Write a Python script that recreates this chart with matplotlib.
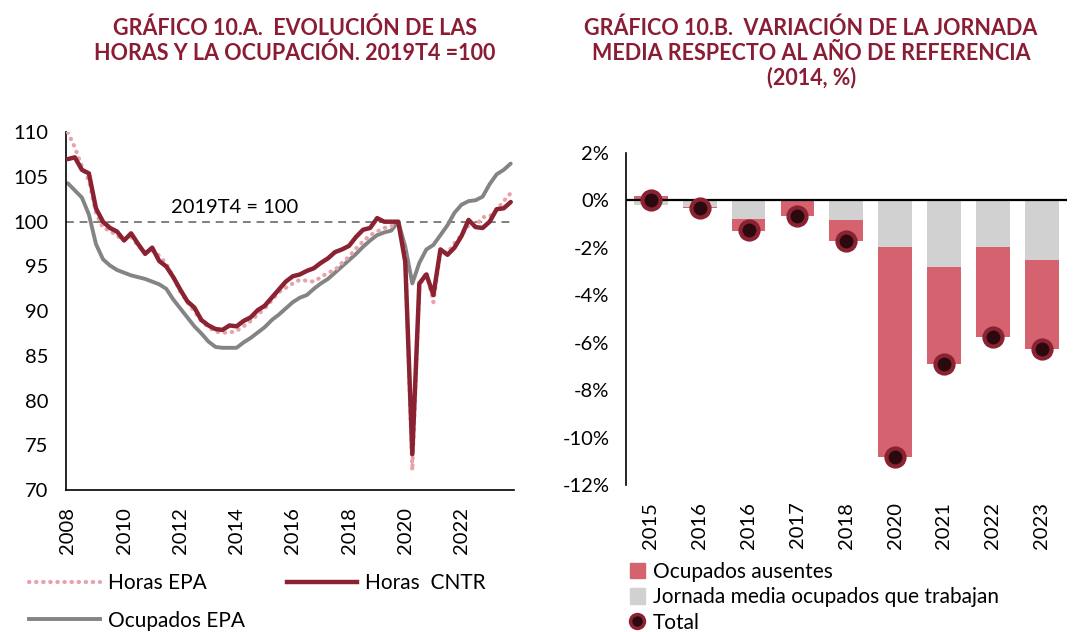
import matplotlib.pyplot as plt
import matplotlib.lines as mlines
import matplotlib.patches as mpatches
import numpy as np

plt.rcParams['font.family'] = ['Lato', 'DejaVu Sans']

# ---- datos grafico 10.A (trimestral 2008T1 - 2023T4) ----
anios_ticks = ['2008', '2010', '2012', '2014', '2016', '2018', '2020', '2022']

horas_epa = [110.0, 108.3, 106.2, 104.6, 101.0, 99.3, 99.0, 98.4,
             98.0, 98.3, 97.3, 96.6, 96.8, 96.2, 95.3, 93.8,
             92.2, 91.0, 90.0, 88.9, 88.2, 87.7, 87.6, 87.6,
             87.8, 88.3, 88.9, 89.6, 90.3, 91.2, 92.1, 92.6,
             93.1, 93.5, 93.4, 93.3, 93.8, 94.3, 94.6, 95.4,
             96.1, 97.0, 97.8, 98.5, 98.9, 99.3, 99.5, 100.0,
             96.0, 72.2, 92.8, 94.4, 91.0, 96.7, 96.5, 97.6,
             98.5, 99.6, 99.5, 100.5, 100.6, 101.3, 102.3, 103.2]

horas_cntr = [107.0, 107.2, 105.8, 105.4, 101.5, 100.0, 99.3, 98.9,
              97.9, 98.7, 97.5, 96.4, 97.1, 95.6, 95.0, 93.8,
              92.4, 91.1, 90.4, 89.0, 88.4, 88.0, 87.9, 88.4,
              88.3, 88.9, 89.3, 90.1, 90.6, 91.5, 92.4, 93.3,
              93.9, 94.1, 94.5, 94.8, 95.4, 95.9, 96.6, 96.9,
              97.3, 98.3, 99.1, 99.3, 100.4, 100.0, 100.0, 100.0,
              95.5, 74.0, 93.1, 94.1, 91.8, 96.9, 96.3, 97.1,
              98.4, 100.2, 99.4, 99.3, 100.0, 101.4, 101.5, 102.2]

ocupados_epa = [104.3, 103.5, 102.7, 100.8, 97.5, 95.8, 95.1, 94.6,
                94.3, 94.0, 93.8, 93.6, 93.3, 93.0, 92.5, 91.3,
                90.3, 89.3, 88.3, 87.5, 86.6, 86.0, 85.9, 85.9,
                85.9, 86.5, 87.0, 87.6, 88.2, 89.0, 89.6, 90.3,
                91.0, 91.5, 91.8, 92.5, 93.1, 93.6, 94.3, 95.0,
                95.7, 96.4, 97.2, 97.9, 98.5, 98.8, 99.0, 100.0,
                97.2, 93.1, 95.4, 96.9, 97.4, 98.5, 99.6, 101.0,
                101.9, 102.3, 102.4, 102.8, 104.2, 105.3, 105.8, 106.5]

# ---- datos grafico 10.B ----
anios_b = ['2015', '2016', '2016', '2017', '2018', '2020', '2021', '2022', '2023']
jornada_trabajan = [-0.20, -0.28, -0.78, -0.03, -0.82, -1.95, -2.83, -1.98, -2.53]
ocupados_ausentes = [0.18, -0.06, -0.50, -0.62, -0.89, -8.88, -4.07, -3.80, -3.72]
total = [0.0, -0.34, -1.27, -0.65, -1.70, -10.83, -6.90, -5.78, -6.25]

rojo_osc = '#8b2232'
rosa = '#e8a2ab'
gris = '#848484'
rosa_barra = '#d5636f'
gris_barra = '#d0d1d0'
titulo_col = '#8a1c33'
fs = 14.5
fs_leg = 15

fig = plt.figure(figsize=(10.8, 6.32), dpi=100)

# ================= grafico A =================
ax1 = fig.add_axes([0.0615, 0.2247, 0.414, 0.566])
x = np.arange(len(horas_cntr))
ax1.plot(x, ocupados_epa, color=gris, lw=2.8, solid_capstyle='round', zorder=2)
ax1.plot(x, horas_epa, color=rosa, lw=3.0, linestyle=(0, (0.1, 1.6)),
         dash_capstyle='round', zorder=3)
ax1.plot(x, horas_cntr, color=rojo_osc, lw=3.2, solid_capstyle='round', zorder=4)
ax1.axhline(100, color='#7f7f7f', lw=1.4, ls=(0, (4, 3)), zorder=1)
ax1.text(23.7, 100.6, '2019T4 = 100', fontsize=fs, ha='center', va='bottom')

ax1.set_ylim(70, 110)
ax1.set_yticks(np.arange(70, 111, 5))
ax1.set_xlim(-0.2, 63.4)
ax1.set_xticks(np.arange(0, 64, 8))
ax1.set_xticklabels(anios_ticks, rotation=90)
ax1.tick_params(axis='y', length=0, labelsize=fs, pad=13)
ax1.tick_params(axis='x', length=0, labelsize=fs, pad=12)
for s in ['top', 'right']:
    ax1.spines[s].set_visible(False)
ax1.spines['left'].set_linewidth(1.2)
ax1.spines['bottom'].set_linewidth(1.2)

fig.text(0.2727, 0.972, 'GRÁFICO 10.A.  EVOLUCIÓN DE LAS\nHORAS Y LA OCUPACIÓN. 2019T4 =100',
         ha='center', va='top', fontsize=15.5, fontweight='bold', color=titulo_col,
         linespacing=1.2)

h_epa = mlines.Line2D([], [], color=rosa, lw=3.0, linestyle=(0, (0.1, 1.6)),
                      dash_capstyle='round')
h_cntr = mlines.Line2D([], [], color=rojo_osc, lw=3.2)
h_ocu = mlines.Line2D([], [], color=gris, lw=2.8)
fig.legend([h_epa, h_ocu, h_cntr], ['Horas EPA', 'Ocupados EPA', 'Horas  CNTR'],
           ncol=2, loc='upper left', bbox_to_anchor=(0.027, 0.093), frameon=False,
           fontsize=fs_leg, handlelength=3.4, handletextpad=0.38, labelspacing=0.84,
           columnspacing=2.0, borderaxespad=0, borderpad=0)

# ================= grafico B =================
ax2 = fig.add_axes([0.5796, 0.2326, 0.408, 0.5255])
xb = np.arange(len(anios_b))
ax2.bar(xb, jornada_trabajan, width=0.69, color=gris_barra, zorder=2)
base = [j if a < 0 else 0 for j, a in zip(jornada_trabajan, ocupados_ausentes)]
ax2.bar(xb, ocupados_ausentes, width=0.69, bottom=base, color=rosa_barra, zorder=2)
ax2.plot(xb, total, 'o', ms=13, mfc='#2a0a0e', mec=rojo_osc, mew=3, ls='none', zorder=4)
ax2.axhline(0, color='black', lw=1.6, zorder=3)

ax2.set_ylim(-12, 2)
ax2.set_yticks(np.arange(-12, 3, 2))
ax2.set_yticklabels(['%d%%' % v for v in range(-12, 3, 2)])
ax2.set_xlim(-0.51, 8.51)
ax2.set_xticks(xb)
ax2.set_xticklabels(anios_b, rotation=90)
ax2.tick_params(axis='y', length=0, labelsize=fs, pad=12)
ax2.tick_params(axis='x', length=0, labelsize=fs, pad=12)
for s in ['top', 'right', 'bottom']:
    ax2.spines[s].set_visible(False)
ax2.spines['left'].set_linewidth(1.2)

fig.text(0.751, 0.972, 'GRÁFICO 10.B.  VARIACIÓN DE LA JORNADA\nMEDIA RESPECTO AL AÑO DE REFERENCIA\n(2014, %)',
         ha='center', va='top', fontsize=15.5, fontweight='bold', color=titulo_col,
         linespacing=1.2)

h_aus = mpatches.Patch(color=rosa_barra)
h_jor = mpatches.Patch(color=gris_barra)
h_tot = mlines.Line2D([], [], marker='o', ms=10, mfc='#2a0a0e', mec=rojo_osc, mew=2.5, ls='none')
fig.legend([h_aus, h_jor, h_tot], ['Ocupados ausentes', 'Jornada media ocupados que trabajan', 'Total'],
           loc='upper left', bbox_to_anchor=(0.583, 0.111), frameon=False, fontsize=fs_leg,
           handlelength=0.75, handleheight=0.75, handletextpad=0.35, labelspacing=0.26,
           borderaxespad=0, borderpad=0)

fig.savefig('out.png', dpi=100)
